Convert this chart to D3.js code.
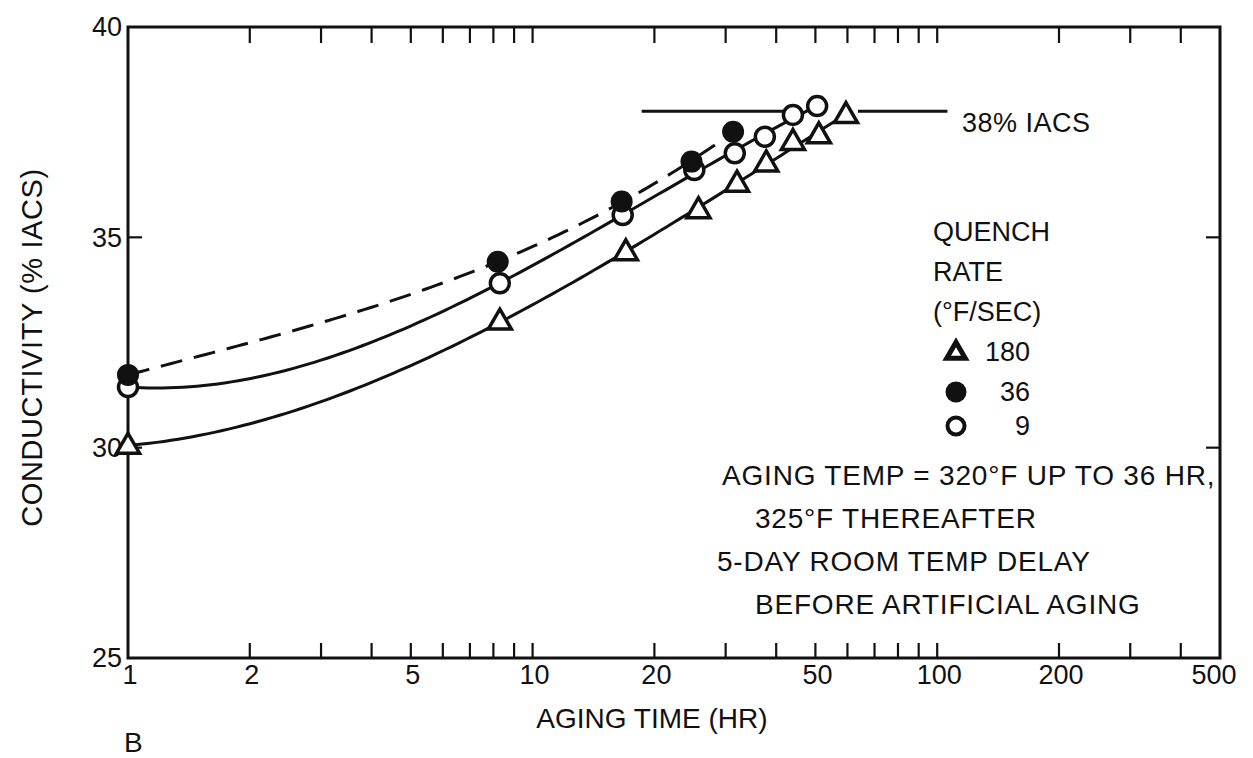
<!DOCTYPE html>
<html>
<head>
<meta charset="utf-8">
<script src="https://cdn.jsdelivr.net/npm/d3@7"></script>
<style>
  body { margin: 0; background: #fff; }
  text { font-family: "Liberation Sans", Arial, sans-serif; fill: #111; }
</style>
</head>
<body>
<div id="chart"></div>
<script>
const width = 1253;
const height = 758;
const margin = { top: 27, right: 33, bottom: 100, left: 128 };

// quench rate 180 F/sec (triangles)
const timeTri = [1, 8.3, 17, 25.7, 32, 37.8, 44, 51, 59.5];
const condTri = [30.05, 33.0, 34.65, 35.65, 36.28, 36.76, 37.27, 37.43, 37.91];
// quench rate 36 F/sec (filled circles, dashed curve)
const timeFilled = [1, 8.2, 16.6, 24.7, 31.3];
const condFilled = [31.73, 34.42, 35.85, 36.8, 37.51];
// quench rate 9 F/sec (open circles)
const timeOpen = [1, 8.3, 16.7, 25.1, 31.6, 37.5, 44, 50.5];
const condOpen = [31.44, 33.91, 35.53, 36.6, 37.0, 37.39, 37.91, 38.12];

const xLabels = [1, 2, 5, 10, 20, 50, 100, 200, 500];
const xMinor = [2, 3, 4, 5, 6, 7, 8, 9, 10, 20, 30, 40, 50, 60, 70, 80, 90, 100, 200, 300, 400];
const yLabels = [25, 30, 35, 40];
const legendRates = ["180", "36", "9"];
const noteLines = [
    "AGING TEMP = 320°F UP TO 36 HR,",
    "325°F THEREAFTER",
    "5-DAY ROOM TEMP DELAY",
    "BEFORE ARTIFICIAL AGING"
];

const x = d3.scaleLog().domain([1, 500]).range([margin.left, width - margin.right]);
const y = d3.scaleLinear().domain([25, 40]).range([658, margin.top]);
const x0 = x.range()[0], x1 = x.range()[1];
const yTop = y(40), yBot = y(25);

// least squares polynomial in log10(time)
function polyFit(xs, ys, deg) {
    const n = deg + 1;
    const A = d3.range(n).map(() => new Array(n + 1).fill(0));
    xs.forEach((xv, k) => {
        const t = Math.log10(xv);
        for (let i = 0; i < n; i++) {
            for (let j = 0; j < n; j++) A[i][j] += Math.pow(t, i + j);
            A[i][n] += ys[k] * Math.pow(t, i);
        }
    });
    for (let i = 0; i < n; i++) {
        let p = i;
        for (let r = i + 1; r < n; r++) if (Math.abs(A[r][i]) > Math.abs(A[p][i])) p = r;
        [A[i], A[p]] = [A[p], A[i]];
        for (let r = 0; r < n; r++) {
            if (r === i) continue;
            const f = A[r][i] / A[i][i];
            for (let c = i; c <= n; c++) A[r][c] -= f * A[i][c];
        }
    }
    const coef = A.map((row, i) => row[n] / row[i]);
    return t => coef.reduce((s, c, i) => s + c * Math.pow(t, i), 0);
}

function fitCurve(xs, ys, deg) {
    const f = polyFit(xs, ys, deg);
    const t0 = Math.log10(d3.min(xs)), t1 = Math.log10(d3.max(xs));
    return d3.range(0, 1.0001, 0.01).map(u => {
        const t = t0 + u * (t1 - t0);
        return [Math.pow(10, t), f(t)];
    });
}

const svg = d3.select("#chart").append("svg")
    .attr("width", width)
    .attr("height", height);

// frame
svg.append("rect")
    .attr("x", x0).attr("y", yTop)
    .attr("width", x1 - x0).attr("height", yBot - yTop)
    .attr("fill", "none").attr("stroke", "#111").attr("stroke-width", 3);

// minor ticks top and bottom
svg.selectAll(".tick-top").data(xMinor).enter().append("line")
    .attr("x1", d => x(d)).attr("x2", d => x(d))
    .attr("y1", yTop).attr("y2", yTop + 16)
    .attr("stroke", "#111").attr("stroke-width", 2.2);
svg.selectAll(".tick-bot").data(xMinor).enter().append("line")
    .attr("x1", d => x(d)).attr("x2", d => x(d))
    .attr("y1", yBot).attr("y2", yBot - 15)
    .attr("stroke", "#111").attr("stroke-width", 2.2);

// y ticks both sides
[30, 35].forEach(v => {
    svg.append("line").attr("x1", x0).attr("x2", x0 + 14).attr("y1", y(v)).attr("y2", y(v))
        .attr("stroke", "#111").attr("stroke-width", 2.2);
    svg.append("line").attr("x1", x1).attr("x2", x1 - 14).attr("y1", y(v)).attr("y2", y(v))
        .attr("stroke", "#111").attr("stroke-width", 2.2);
});

// tick labels
svg.selectAll(".xlab").data(xLabels).enter().append("text")
    .attr("x", d => x(d) + (d === 500 ? -6 : 2))
    .attr("y", yBot + 7)
    .attr("dy", "0.71em")
    .attr("text-anchor", "middle")
    .attr("font-size", 27)
    .text(d => d);
svg.selectAll(".ylab").data(yLabels).enter().append("text")
    .attr("x", x0 - 6)
    .attr("y", d => y(d))
    .attr("dy", "0.35em")
    .attr("text-anchor", "end")
    .attr("font-size", 27)
    .text(d => d);

// axis titles
svg.append("text")
    .attr("x", 652).attr("y", 728)
    .attr("text-anchor", "middle")
    .attr("font-size", 28)
    .text("AGING TIME (HR)");
svg.append("text")
    .attr("transform", `translate(42,${(yTop + yBot) / 2 + 5}) rotate(-90)`)
    .attr("text-anchor", "middle")
    .attr("font-size", 29)
    .attr("letter-spacing", 0.6)
    .text("CONDUCTIVITY (% IACS)");
svg.append("text")
    .attr("x", 124).attr("y", 752)
    .attr("font-size", 28)
    .text("B");

// 38% IACS reference
svg.append("line")
    .attr("x1", x(18.6)).attr("x2", x(42.5)).attr("y1", y(38)).attr("y2", y(38))
    .attr("stroke", "#111").attr("stroke-width", 3);
svg.append("line")
    .attr("x1", x(63.7)).attr("x2", x(106)).attr("y1", y(38)).attr("y2", y(38))
    .attr("stroke", "#111").attr("stroke-width", 3);
svg.append("text")
    .attr("x", 962).attr("y", y(38) + 21)
    .attr("font-size", 27)
    .attr("letter-spacing", 0.5)
    .text("38% IACS");

// curves
const line = d3.line().x(d => x(d[0])).y(d => y(d[1]));
svg.append("path").datum(fitCurve(timeTri, condTri, 3))
    .attr("d", line).attr("fill", "none").attr("stroke", "#111").attr("stroke-width", 3);
svg.append("path").datum(fitCurve(timeOpen, condOpen, 3))
    .attr("d", line).attr("fill", "none").attr("stroke", "#111").attr("stroke-width", 3);
svg.append("path").datum(fitCurve(timeFilled, condFilled, 3))
    .attr("d", line).attr("fill", "none").attr("stroke", "#111").attr("stroke-width", 3)
    .attr("stroke-dasharray", "22,12");

// markers
const tri = d3.symbol(d3.symbolTriangle).size(230);
svg.selectAll(".open").data(d3.zip(timeOpen, condOpen)).enter().append("circle")
    .attr("cx", d => x(d[0])).attr("cy", d => y(d[1])).attr("r", 9.5)
    .attr("fill", "#fff").attr("stroke", "#111").attr("stroke-width", 3.5);
svg.selectAll(".filled").data(d3.zip(timeFilled, condFilled)).enter().append("circle")
    .attr("cx", d => x(d[0])).attr("cy", d => y(d[1])).attr("r", 11)
    .attr("fill", "#111");
svg.selectAll(".tri").data(d3.zip(timeTri, condTri)).enter().append("path")
    .attr("d", tri)
    .attr("transform", d => `translate(${x(d[0])},${y(d[1]) + 1})`)
    .attr("fill", "#fff").attr("stroke", "#111").attr("stroke-width", 3.5);

// legend
const lg = svg.append("g").attr("transform", "translate(933,0)");
["QUENCH", "RATE", "(°F/SEC)"].forEach((s, i) => {
    lg.append("text").attr("x", 0).attr("y", 232 + i * 40).attr("dy", "0.35em")
        .attr("font-size", 27).text(s);
});
const legY = [352, 392, 426];
lg.append("path").attr("d", d3.symbol(d3.symbolTriangle).size(150))
    .attr("transform", `translate(23,${legY[0] + 1})`)
    .attr("fill", "#fff").attr("stroke", "#111").attr("stroke-width", 5);
lg.append("circle").attr("cx", 23).attr("cy", legY[1]).attr("r", 10.5).attr("fill", "#111");
lg.append("circle").attr("cx", 23).attr("cy", legY[2]).attr("r", 8.5)
    .attr("fill", "#fff").attr("stroke", "#111").attr("stroke-width", 4);
legendRates.forEach((s, i) => {
    lg.append("text").attr("x", 97).attr("y", legY[i]).attr("dy", "0.35em")
        .attr("text-anchor", "end").attr("font-size", 27).text(s);
});

// note
const noteX = [722, 755, 717, 755];
noteLines.forEach((s, i) => {
    svg.append("text").attr("x", noteX[i]).attr("y", 475 + i * 43).attr("dy", "0.35em")
        .attr("font-size", 28)
        .attr("letter-spacing", 0.8)
        .text(s);
});
</script>
</body>
</html>
